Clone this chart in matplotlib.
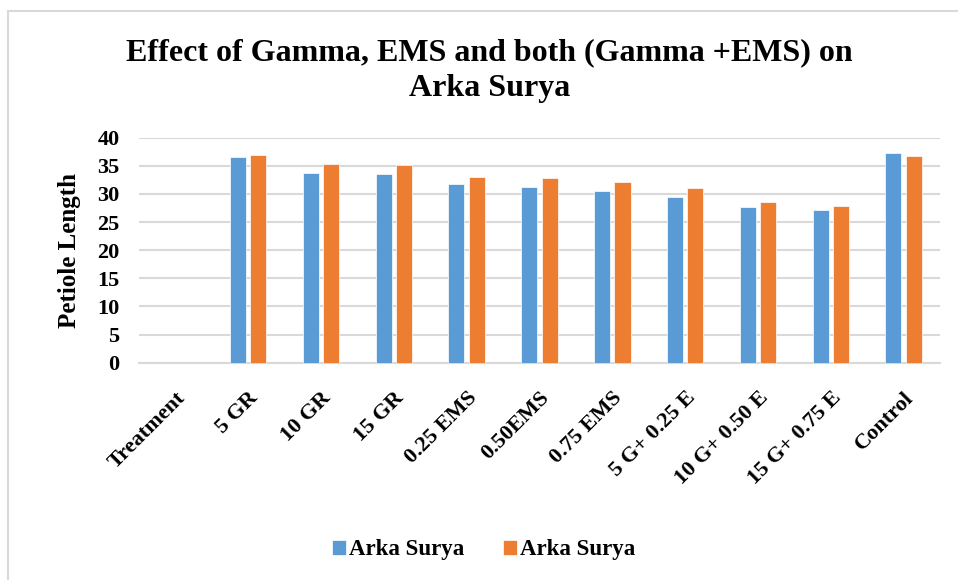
import numpy as np
import matplotlib.pyplot as plt
from matplotlib.patches import Rectangle

categories = ['Treatment', '5 GR', '10 GR', '15 GR', '0.25 EMS', '0.50EMS',
              '0.75 EMS', '5 G+ 0.25 E', '10 G+ 0.50 E', '15 G+ 0.75 E', 'Control']
series_a = [0, 36.6, 33.8, 33.5, 31.8, 31.2, 30.5, 29.5, 27.7, 27.1, 37.2]
series_b = [0, 37.0, 35.3, 35.1, 33.1, 32.8, 32.1, 31.0, 28.6, 27.9, 36.7]
labels = ['Arka Surya', 'Arka Surya']

plt.rcParams['font.family'] = 'Liberation Serif'
plt.rcParams['font.weight'] = 'bold'

fig = plt.figure(figsize=(9.58, 5.8), dpi=100)
ax = fig.add_axes([0.1451, 0.3747, 0.8361, 0.3879])

# outer chart border (light grey)
fig.patches.append(Rectangle((8 / 958, -0.05), 1.1, (580 - 11) / 580 + 0.05,
                             transform=fig.transFigure, fill=False,
                             edgecolor='#D9D9D9', linewidth=1.5))

x = np.arange(len(categories))
w = 0.22
ax.bar(x - 0.14, series_a, w, color='#5B9BD5', edgecolor='white', linewidth=0.5, label=labels[0], zorder=3)
ax.bar(x + 0.14, series_b, w, color='#ED7D31', edgecolor='white', linewidth=0.5, label=labels[1], zorder=3)

ax.set_xlim(-0.5, len(categories) - 0.5)
ax.set_ylim(0, 40)
ax.set_yticks(np.arange(0, 41, 5))
ax.yaxis.grid(True, color='#D9D9D9', linewidth=1.5, zorder=0)
ax.set_axisbelow(True)
for s in ['top', 'right', 'left']:
    ax.spines[s].set_visible(False)
ax.spines['bottom'].set_color('#D9D9D9')
ax.spines['bottom'].set_linewidth(1.5)
ax.tick_params(axis='both', length=0, labelsize=16)
ax.tick_params(axis='y', pad=14)

ax.set_xticks(x)
ax.set_xticklabels(categories, rotation=45, ha='right', rotation_mode='anchor',
                   fontsize=16, fontweight='bold')
ax.tick_params(axis='x', pad=18)
for t in ax.get_yticklabels():
    t.set_fontweight('bold')

ax.set_ylabel('Petiole Length', fontsize=18, fontweight='bold', labelpad=12)

fig.text(0.511, 0.878, 'Effect of Gamma, EMS and both (Gamma +EMS) on\nArka Surya',
         ha='center', va='center', fontsize=23, fontweight='bold', linespacing=1.28)

fig.legend(loc='center', bbox_to_anchor=(0.505, 0.052), ncol=2, frameon=False,
           prop={'size': 16.5, 'weight': 'bold'}, handlelength=0.6, handleheight=0.6,
           handletextpad=0.15, columnspacing=1.7)

fig.savefig('out.png', dpi=100)
